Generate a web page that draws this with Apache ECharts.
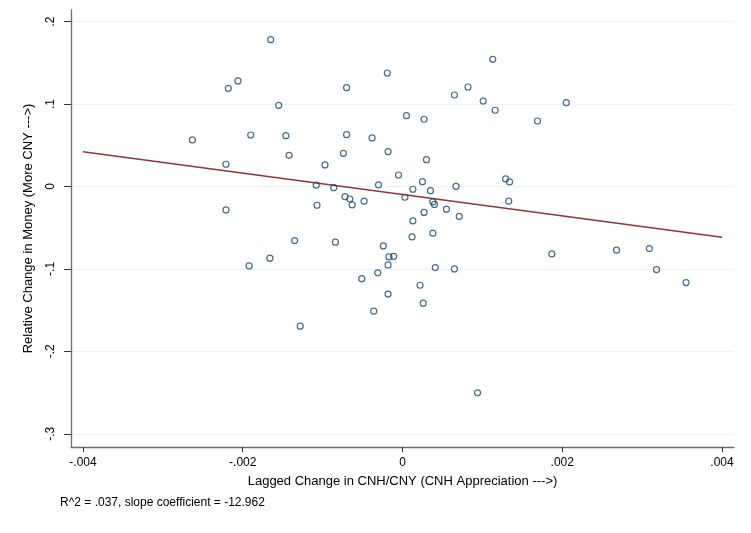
<!DOCTYPE html>
<html><head><meta charset="utf-8">
<script src="https://cdn.jsdelivr.net/npm/echarts@6/dist/echarts.min.js"></script>
<style>html,body{margin:0;padding:0;background:#fff}#c{width:751px;height:533px}</style>
</head><body><div id="c"></div>
<script>
const pointsX = [-0.00263,-0.00165,-0.00218,-0.00206,-0.00190,-0.00221,-0.00221,-0.00146,-0.00142,-0.00155,-0.00070,-0.00070,-0.00074,-0.00097,-0.00108,-0.00086,-0.00072,-0.00066,-0.00063,-0.00048,-0.00107,-0.00038,-0.00019,-0.00018,-0.00005,-0.00030,0.00005,0.00003,0.00027,0.00030,0.00025,0.00013,0.00035,0.00038,0.00040,0.00067,0.00055,0.00071,0.00027,0.00013,0.00129,0.00134,0.00133,0.00065,0.00082,0.00113,0.00101,0.00116,0.00169,0.00205,-0.00135,-0.00084,-0.00166,-0.00192,-0.00024,-0.00017,-0.00011,-0.00018,-0.00031,-0.00051,-0.00018,-0.00036,-0.00128,0.00012,0.00038,0.00041,0.00065,0.00022,0.00026,0.00094,0.00187,0.00268,0.00309,0.00318,0.00355];
const pointsY = [0.0564,0.178,0.119,0.128,0.0624,0.0269,-0.0285,0.0616,0.0378,0.0984,0.1198,0.0628,0.0402,0.0261,0.0015,-0.0015,-0.0124,-0.0152,-0.0224,-0.0179,-0.0228,0.0588,0.1376,0.0422,0.0139,0.0018,0.0858,-0.0131,0.0815,0.0325,0.0058,-0.0034,-0.0051,-0.0188,-0.0218,0.0002,-0.0276,-0.0364,-0.0315,-0.0418,0.0091,0.0055,-0.0179,0.1109,0.1206,0.1542,0.1036,0.0924,0.0794,0.1016,-0.0657,-0.0676,-0.0870,-0.0964,-0.0721,-0.0855,-0.0848,-0.0952,-0.1048,-0.1118,-0.1305,-0.1513,-0.1695,-0.0612,-0.0567,-0.0984,-0.1000,-0.1198,-0.1416,-0.2503,-0.0818,-0.0773,-0.0754,-0.1008,-0.1166];
const fitX = [-0.004, 0.004];
const fitY = [0.0422, -0.0615];
const xTicks = [-0.004,-0.002,0,0.002,0.004];
const yTicks = [-0.3,-0.2,-0.1,0,0.1,0.2];
const note = 'R^2 = .037, slope coefficient = -12.962';
const fmt = v => { let s = String(+v.toFixed(6)); return s.replace(/^(-?)0\./,'$1.'); };
const font = 'Liberation Sans';
const chart = echarts.init(document.getElementById('c'));
chart.setOption({
  animation:false,
  textStyle:{fontFamily:font},
  grid:{left:71,right:17,top:10,bottom:86},
  xAxis:{type:'value',min:-0.00415,max:0.00415,
    name:'Lagged Change in CNH/CNY (CNH Appreciation --->)',nameLocation:'middle',nameGap:28,
    nameTextStyle:{color:'#000',fontSize:13,fontFamily:font},
    axisLine:{onZero:false,lineStyle:{color:'#6e6e6e',width:1.3}},
    axisTick:{length:5,lineStyle:{color:'#333'},customValues:xTicks},
    axisLabel:{color:'#000',fontSize:12,margin:10,customValues:xTicks,formatter:fmt},
    splitLine:{show:false}},
  yAxis:{type:'value',min:-0.316,max:0.214,
    name:'Relative Change in Money (More CNY --->)',nameLocation:'middle',nameGap:36,
    nameTextStyle:{color:'#000',fontSize:13,fontFamily:font},
    axisLine:{show:true,onZero:false,lineStyle:{color:'#6e6e6e',width:1.3}},
    axisTick:{show:true,length:7,lineStyle:{color:'#333'},customValues:yTicks},
    axisLabel:{color:'#000',fontSize:12,rotate:90,margin:14,customValues:yTicks,formatter:fmt},
    splitLine:{show:true,lineStyle:{color:'#eaf2f3',width:1}}},
  graphic:[{type:'text',left:60,top:497,style:{text:note,fontSize:12,fontFamily:font,fill:'#000'}}],
  series:[
    {type:'scatter',data:pointsX.map((x,i)=>[x,pointsY[i]]),symbol:'circle',symbolSize:6,
      itemStyle:{color:'transparent',borderColor:'#1a476f',borderWidth:1.2},z:3},
    {type:'line',data:fitX.map((x,i)=>[x,fitY[i]]),symbol:'none',lineStyle:{color:'#90353b',width:1.5},z:2}
  ]
});
</script></body></html>
